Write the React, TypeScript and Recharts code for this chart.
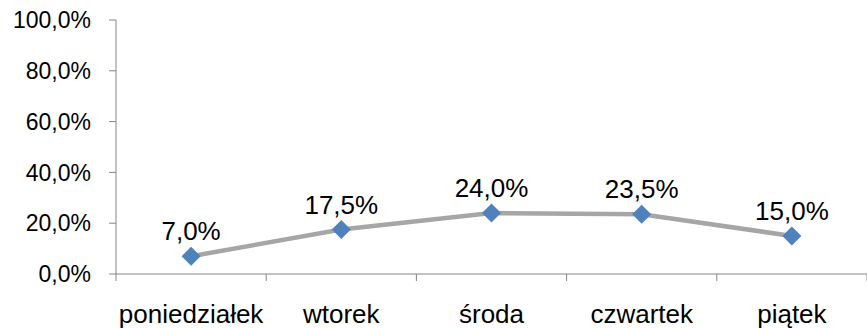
import { LineChart, Line, XAxis, YAxis, LabelList } from 'recharts';

const days = ['poniedziałek', 'wtorek', 'środa', 'czwartek', 'piątek'];
const shares = [0.07, 0.175, 0.24, 0.235, 0.15];
const yTicks = [0, 0.2, 0.4, 0.6, 0.8, 1];

const data = days.map((day, i) => ({ day, share: shares[i] }));

const AXIS = '#868686';
const FONT = '"Liberation Sans", Arial, sans-serif';

const pct = (v: number) => `${(v * 100).toFixed(1).replace('.', ',')}%`;

function Diamond(props: any) {
  const { cx, cy } = props;
  if (cx == null || cy == null) return null;
  const r = 9.5;
  return (
    <polygon
      points={`${cx},${cy - r} ${cx + r},${cy} ${cx},${cy + r} ${cx - r},${cy}`}
      fill="#4F81BD"
    />
  );
}

function DayTick(props: any) {
  const { x, y, payload } = props;
  const off = payload.offset || 0;
  const last = payload.index === days.length - 1;
  return (
    <g>
      <line x1={x - off} y1={y} x2={x - off} y2={y + 7} stroke={AXIS} strokeWidth={1} />
      {last && <line x1={x + off} y1={y} x2={x + off} y2={y + 7} stroke={AXIS} strokeWidth={1} />}
      <text x={x} y={y + 49} textAnchor="middle" fontSize={26} fontFamily={FONT} fill="#000">
        {payload.value}
      </text>
    </g>
  );
}

export default function App() {
  return (
    <div style={{ position: 'absolute', left: 0, top: 0, background: '#fff' }}>
      <LineChart width={867} height={328} data={data} margin={{ top: 20, right: 0, bottom: 0, left: 0 }}>
        <XAxis
          dataKey="day"
          scale="band"
          height={54}
          tickLine={false}
          tickSize={0}
          tickMargin={0}
          axisLine={{ stroke: AXIS }}
          tick={<DayTick />}
          interval={0}
        />
        <YAxis
          domain={[0, 1]}
          ticks={yTicks}
          width={116}
          tickSize={7}
          tickMargin={18}
          axisLine={{ stroke: AXIS }}
          tickLine={{ stroke: AXIS }}
          tickFormatter={pct}
          tick={{ fontSize: 23, fontFamily: FONT, fill: '#000' }}
        />
        <Line
          dataKey="share"
          stroke="#A6A6A6"
          strokeWidth={4.5}
          dot={<Diamond />}
          activeDot={false}
          isAnimationActive={false}
        >
          <LabelList
            dataKey="share"
            position="top"
            offset={16}
            formatter={(v: any) => pct(Number(v))}
            style={{ fontSize: 26, fontFamily: FONT, fill: '#000' }}
          />
        </Line>
      </LineChart>
    </div>
  );
}
